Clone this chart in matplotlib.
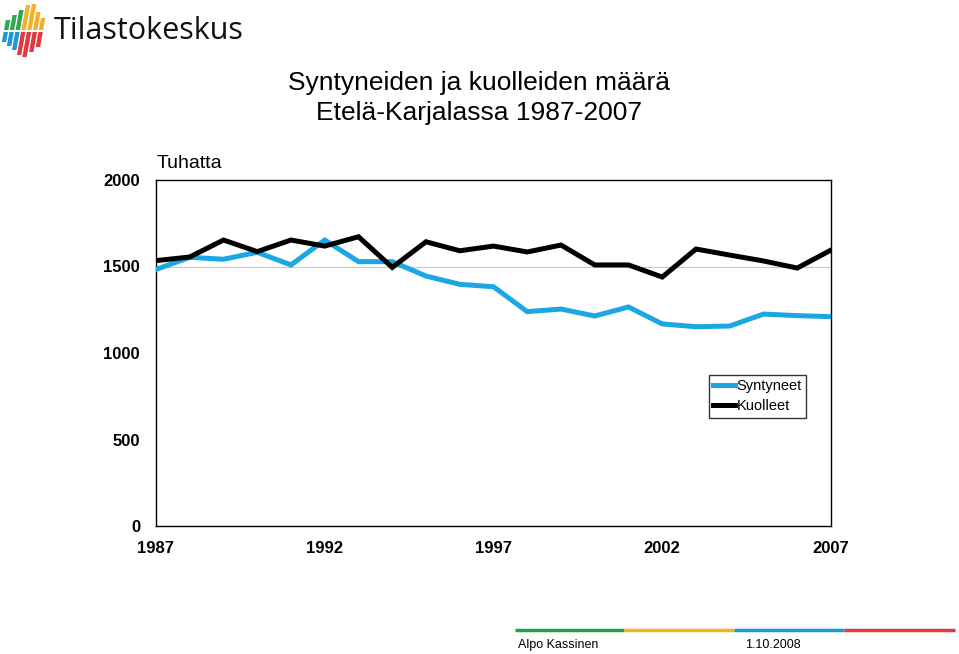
import matplotlib
matplotlib.use("Agg")
import matplotlib.pyplot as plt
from matplotlib.patches import Polygon
from matplotlib.lines import Line2D

years = list(range(1987, 2008))
syntyneet = [1483, 1553, 1542, 1582, 1509, 1653, 1528, 1528, 1445, 1397, 1383,
             1239, 1254, 1214, 1266, 1168, 1152, 1156, 1225, 1216, 1210]
kuolleet = [1534, 1555, 1653, 1586, 1653, 1618, 1672, 1495, 1643, 1591, 1618,
            1584, 1624, 1509, 1509, 1439, 1601, 1566, 1532, 1491, 1595]
xticks = [1987, 1992, 1997, 2002, 2007]
yticks = [0, 500, 1000, 1500, 2000]

plt.rcParams['font.family'] = ['Liberation Sans', 'DejaVu Sans']

W, H = 959, 654
fig = plt.figure(figsize=(W / 100, H / 100), dpi=100)

def fx(px):
    return px / W

def fy(py):
    return 1 - py / H

ax = fig.add_axes([fx(156), fy(526), (831 - 156) / W, (526 - 180) / H])
ax.plot(years, syntyneet, color='#1aa7e3', lw=3.6, solid_joinstyle='miter', label='Syntyneet', zorder=3)
ax.plot(years, kuolleet, color='black', lw=3.6, solid_joinstyle='miter', label='Kuolleet', zorder=3)
ax.set_xlim(1987, 2007)
ax.set_ylim(0, 2000)
ax.set_xticks(xticks)
ax.set_yticks(yticks)
ax.set_xticklabels([str(v) for v in xticks], fontsize=12, fontweight='bold')
ax.set_yticklabels([str(v) for v in yticks], fontsize=12, fontweight='bold')
ax.tick_params(axis='y', length=0, pad=11.5)
ax.tick_params(axis='x', length=0, pad=10.5)
ax.axhline(1500, color='#c8c8c8', lw=0.8, zorder=1)
for s in ax.spines.values():
    s.set_color('black')
    s.set_linewidth(1.0)

leg = ax.legend(loc='upper left', bbox_to_anchor=((709 - 156) / 675, (526 - 375) / 346),
                frameon=True, fancybox=False, edgecolor='black', fontsize=10.5,
                handlelength=1.45, handletextpad=0.12, borderpad=0.3, labelspacing=0.4,
                borderaxespad=0)
leg.get_frame().set_linewidth(1.0)

fig.text(fx(157), fy(163), 'Tuhatta', fontsize=14, ha='left', va='center')
fig.text(fx(479), fy(98), 'Syntyneiden ja kuolleiden määrä\nEtelä-Karjalassa 1987-2007',
         fontsize=19, ha='center', va='center', linespacing=1.3)

# Logo
upper_top = [20, 15, 10, 5, 4, 12, 18]
lower_bot = [42, 46, 50, 55, 57, 52, 47]
up_cols = ['#2fa84f', '#2fa84f', '#2fa84f', '#f2b12b', '#f2b12b', '#f2b12b', '#f2b12b']
lo_cols = ['#1e96d8', '#1e96d8', '#1e96d8', '#e0393e', '#e0393e', '#e0393e', '#e0393e']
slope = 0.18
bw = 4.4
for i in range(7):
    xc = 6 + i * 5.8
    for (y0, y1, c) in [(upper_top[i], 30, up_cols[i]), (32, lower_bot[i], lo_cols[i])]:
        def xa(y):
            return xc + (31 - y) * slope
        pts = [(fx(xa(y1) - bw / 2), fy(y1)), (fx(xa(y1) + bw / 2), fy(y1)),
               (fx(xa(y0) + bw / 2), fy(y0)), (fx(xa(y0) - bw / 2), fy(y0))]
        fig.patches.append(Polygon(pts, closed=True, transform=fig.transFigure,
                                   facecolor=c, edgecolor='none'))
fig.text(fx(54), fy(31), 'Tilastokeskus', fontsize=22, ha='left', va='center',
         family=['Open Sans', 'DejaVu Sans'], color='#111111')

# Footer
segs = [(515, 624, '#1fa14a'), (624, 734, '#f0b323'), (734, 844, '#1b9ad6'), (844, 955, '#e0393e')]
for x0, x1, c in segs:
    fig.add_artist(Line2D([fx(x0), fx(x1)], [fy(630), fy(630)], transform=fig.transFigure,
                          color=c, lw=2.5, solid_capstyle='butt'))
fig.text(fx(518), fy(645), 'Alpo Kassinen', fontsize=9, ha='left', va='center')
fig.text(fx(745), fy(645), '1.10.2008', fontsize=9, ha='left', va='center')

fig.savefig('out.png', dpi=100)
